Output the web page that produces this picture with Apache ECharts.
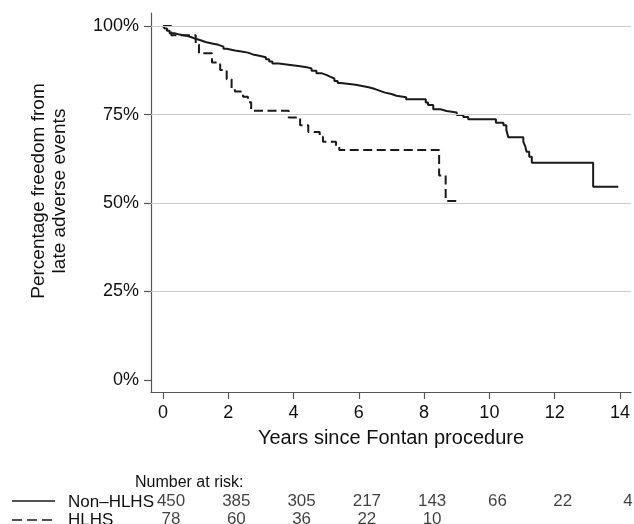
<!DOCTYPE html>
<html><head><meta charset="utf-8">
<script src="https://cdn.jsdelivr.net/npm/echarts@6/dist/echarts.min.js"></script>
<style>html,body{margin:0;padding:0;background:#fff}#c{width:634px;height:524px}</style>
</head><body><div id="c"></div>
<script>
const xTicks = [0, 2, 4, 6, 8, 10, 12, 14];
const yTicks = [0, 25, 50, 75, 100];
const gridValues = [25, 50, 75, 100];
const groupNames = ['Non\u2013HLHS', 'HLHS'];
const nonHLHS = [[0,100],[0.05,99.3],[0.12,98.7],[0.2,98.0],[0.35,97.6],[0.5,97.3],[0.7,96.9],[0.85,96.4],[1.0,96.0],[1.15,95.5],[1.3,95.1],[1.5,94.7],[1.7,94.2],[1.85,93.6],[1.95,93.1],[2.2,92.8],[2.4,92.5],[2.6,92.0],[2.75,91.6],[2.95,91.2],[3.15,90.6],[3.25,90.0],[3.35,89.4],[3.55,89.0],[3.9,88.7],[4.15,88.4],[4.4,88.0],[4.55,87.4],[4.7,86.7],[4.85,86.2],[5.0,85.7],[5.12,85.2],[5.25,84.5],[5.35,83.9],[5.45,83.4],[5.9,83.1],[6.1,82.7],[6.3,82.2],[6.5,81.7],[6.65,81.2],[6.8,80.8],[7.0,80.3],[7.15,79.9],[7.45,79.3],[8.05,78.4],[8.12,77.7],[8.28,76.5],[8.5,76.0],[8.69,75.6],[9.0,74.9],[9.2,74.3],[9.35,73.7],[10.2,72.7],[10.43,72.0],[10.52,70.6],[10.58,68.6],[11.04,67.3],[11.1,66.0],[11.14,64.5],[11.22,63.1],[11.3,61.4],[13.18,54.6],[13.95,54.6]];
const hlhs = [[0,100],[0.25,97.4],[1.0,94.8],[1.1,92.3],[1.5,89.7],[1.75,87.6],[1.95,85.0],[2.1,82.4],[2.2,81.5],[2.45,80.0],[2.6,78.5],[2.7,76.1],[3.85,74.2],[4.2,72.0],[4.45,70.1],[4.8,68.7],[4.9,67.3],[5.3,66.2],[5.4,65.0],[8.46,57.8],[8.66,50.6],[9.0,50.6]];
const riskYears = [0, 2, 4, 6, 8, 10, 12, 14];
const riskNonHLHS = [450, 385, 305, 217, 143, 66, 22, 4];
const riskHLHS = [78, 60, 36, 22, 10];

const FONT = 'Liberation Sans, Arial, Helvetica, sans-serif';
const axisColor = '#555';
const textColor = '#111';

const riskData = [];
riskNonHLHS.forEach((v, i) => riskData.push([riskYears[i], 0.5, v]));
riskHLHS.forEach((v, i) => riskData.push([riskYears[i], 1.5, v]));

const chart = echarts.init(document.getElementById('c'), null, {renderer: 'canvas'});
chart.setOption({
  animation: false,
  backgroundColor: '#fff',
  textStyle: {fontFamily: FONT},
  grid: [
    {left: 151, right: 3, top: 13, bottom: 132},
    {left: 151, right: 3, top: 492.5, height: 31.5}
  ],
  xAxis: [
    {
      gridIndex: 0, type: 'value', min: -0.37, max: 14.34,
      name: 'Years since Fontan procedure', nameLocation: 'middle', nameGap: 36,
      nameTextStyle: {fontSize: 20, color: textColor, fontFamily: FONT},
      axisLine: {show: true, onZero: false, lineStyle: {color: axisColor, width: 1.2}},
      axisTick: {show: true, length: 7, customValues: xTicks, lineStyle: {color: axisColor, width: 1.2}},
      axisLabel: {customValues: xTicks, fontSize: 18, color: textColor, margin: 12, fontFamily: FONT},
      splitLine: {show: false}
    },
    {
      gridIndex: 1, type: 'value', min: -0.37, max: 14.34,
      axisLine: {show: false}, axisTick: {show: false}, axisLabel: {show: false}, splitLine: {show: false}
    }
  ],
  yAxis: [
    {
      gridIndex: 0, type: 'value', min: -3.4, max: 103.7,
      name: 'Percentage freedom from\nlate adverse events', nameLocation: 'middle', nameGap: 81,
      nameMoveOverlap: false,
      nameTextStyle: {fontSize: 19, color: textColor, fontFamily: FONT, lineHeight: 21, padding: [0, 0, 0, 23]},
      axisLine: {show: true, onZero: false, lineStyle: {color: axisColor, width: 1.2}},
      axisTick: {show: true, length: 7, customValues: yTicks, lineStyle: {color: axisColor, width: 1.2}},
      axisLabel: {customValues: yTicks, fontSize: 18, color: textColor, margin: 12, fontFamily: FONT,
        formatter: v => v + '%'},
      splitLine: {show: false}
    },
    {
      gridIndex: 1, type: 'value', min: 0, max: 1.75, inverse: true,
      axisLine: {show: false}, axisTick: {show: false}, axisLabel: {show: false}, splitLine: {show: false}
    }
  ],
  series: [
    {
      type: 'line', xAxisIndex: 0, yAxisIndex: 0, data: [], z: 1, silent: true,
      markLine: {
        silent: true, symbol: 'none', animation: false,
        label: {show: false},
        lineStyle: {color: '#cccccc', width: 1, type: 'solid'},
        data: gridValues.map(v => ({yAxis: v}))
      }
    },
    {
      name: groupNames[0], type: 'line', step: 'end', xAxisIndex: 0, yAxisIndex: 0,
      data: nonHLHS, showSymbol: false, z: 3,
      lineStyle: {color: '#1a1a1a', width: 2}
    },
    {
      name: groupNames[1], type: 'line', step: 'end', xAxisIndex: 0, yAxisIndex: 0,
      data: hlhs, showSymbol: false, z: 3,
      lineStyle: {color: '#1a1a1a', width: 2, type: [9, 4.5]}
    },
    {
      type: 'scatter', xAxisIndex: 1, yAxisIndex: 1, data: riskData, symbolSize: 0, silent: true, clip: false,
      label: {show: true, position: 'inside', offset: [8, 0], formatter: p => p.value[2],
        fontSize: 17, color: textColor, fontFamily: FONT}
    }
  ],
  graphic: [
    {type: 'text', left: 135, top: 475, style: {text: 'Number at risk:', font: '16px ' + FONT, fill: textColor}},
    {type: 'text', left: 68, top: 494, style: {text: groupNames[0], font: '17px ' + FONT, fill: textColor}},
    {type: 'text', left: 68, top: 512, style: {text: groupNames[1], font: '17px ' + FONT, fill: textColor}},
    {type: 'line', shape: {x1: 12, y1: 501, x2: 55, y2: 501}, style: {stroke: '#1a1a1a', lineWidth: 1.5}},
    {type: 'line', shape: {x1: 12, y1: 520, x2: 55, y2: 520}, style: {stroke: '#1a1a1a', lineWidth: 1.5, lineDash: [10, 5]}}
  ]
});
</script>
</body></html>
